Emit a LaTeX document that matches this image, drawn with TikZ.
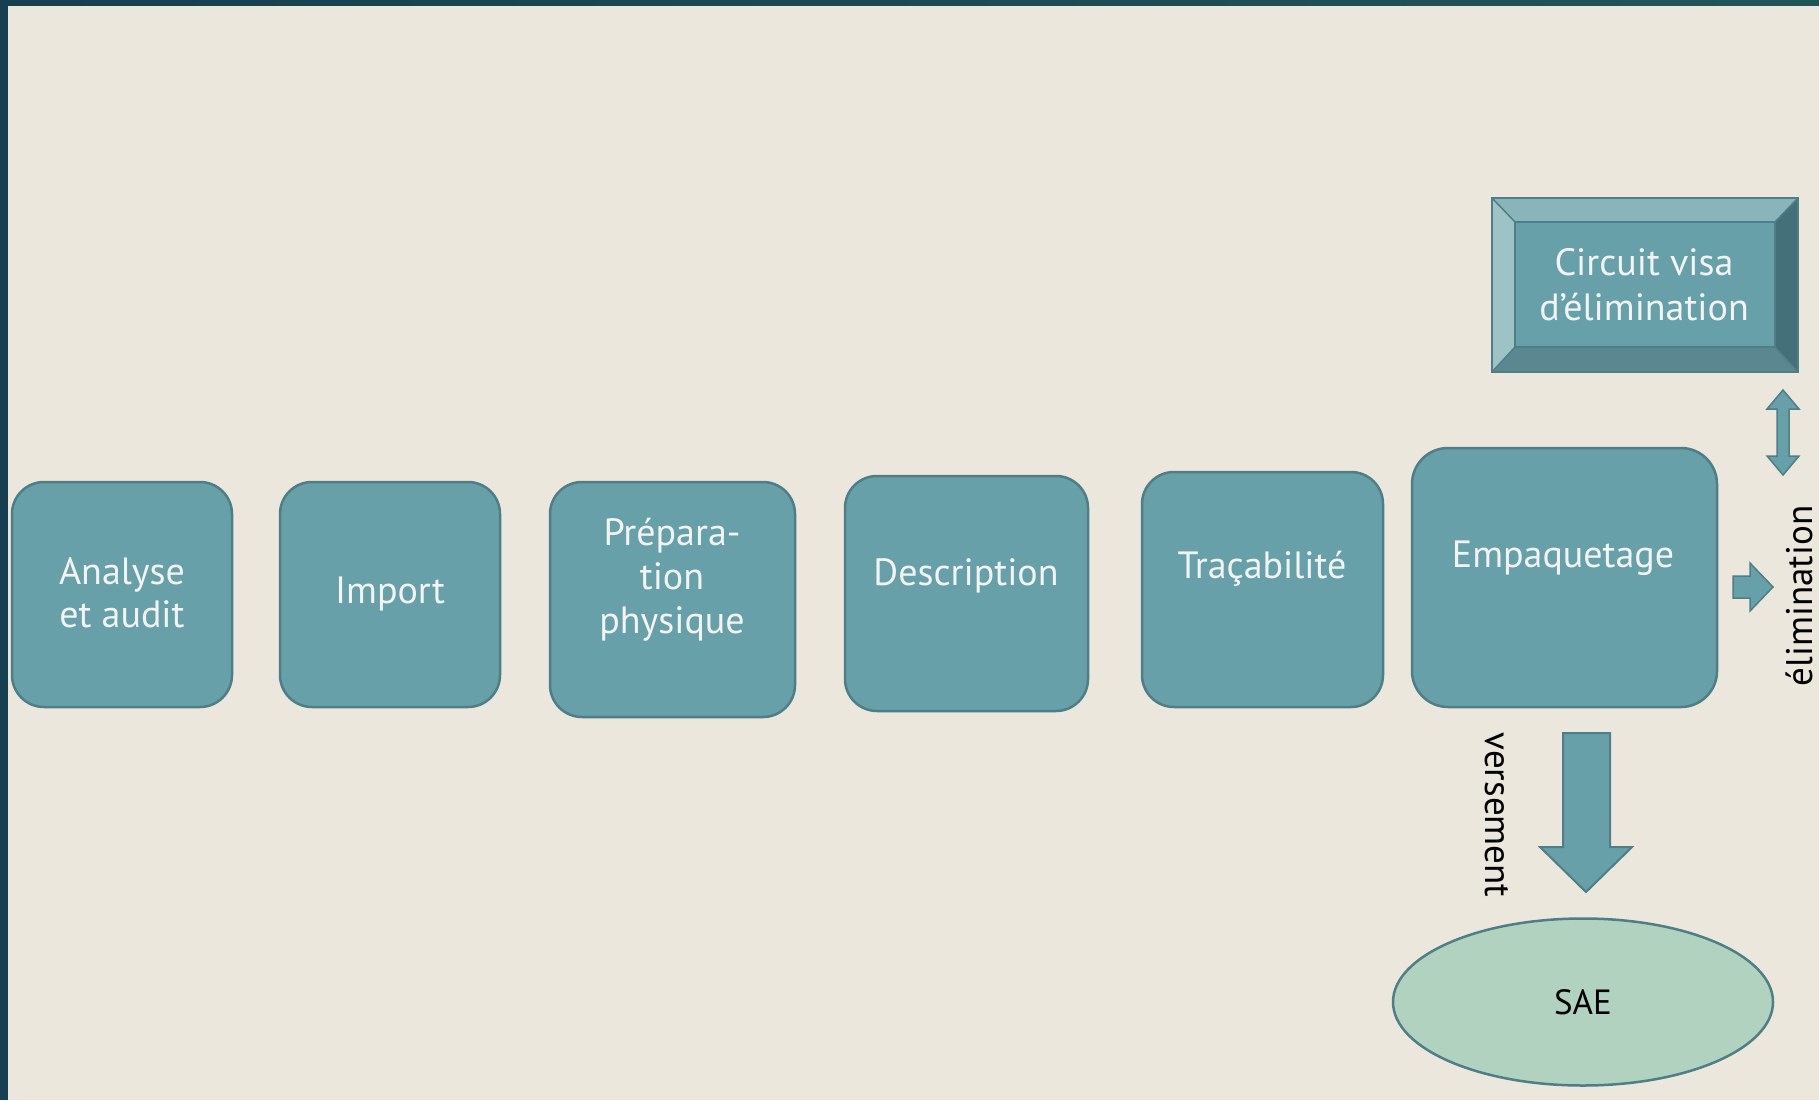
\documentclass[tikz,border=0pt]{standalone}
\usepackage{fontspec}
\setmainfont{PT Sans}
\usetikzlibrary{shapes.geometric}
\definecolor{paper}{HTML}{EBE7DD}
\definecolor{frameL}{HTML}{163F50}
\definecolor{frameR}{HTML}{215659}
\definecolor{boxfill}{HTML}{68A0A9}
\definecolor{boxline}{HTML}{4F7E87}
\definecolor{boxtext}{HTML}{F2F4F4}
\definecolor{bevtop}{HTML}{88B4BA}
\definecolor{bevleft}{HTML}{9DC3C7}
\definecolor{bevright}{HTML}{44707A}
\definecolor{bevbot}{HTML}{5A8790}
\definecolor{saefill}{HTML}{B1D2BE}
\tikzset{
  stepbox/.style={draw=boxline, line width=2.5pt, fill=boxfill, rounded corners=32pt,
    inner sep=0pt},
  steplabel/.style={text=boxtext, align=center, inner sep=0pt,
    font=\fontsize{38}{44}\selectfont},
  sidelabel/.style={text=black, inner sep=0pt, font=\fontsize{37}{40}\selectfont},
  blockarrow/.style={fill=boxfill, draw=boxline, line width=2pt, line join=miter},
}
\begin{document}
\begin{tikzpicture}[x=1pt,y=-1pt]
% page, background and frame bars
\useasboundingbox (0,0) rectangle (1819,1100);
\fill[paper] (0,0) rectangle (1819,1100);
\shade[left color=frameL, right color=frameR] (0,0) rectangle (1819,5);
\fill[frameL] (0,0) rectangle (8,1100);

% process steps
\node[stepbox, minimum width=220pt, minimum height=225pt] (analyse) at (122,594.5) {};
\node[steplabel, font=\fontsize{38}{43}\selectfont] (analyseT) at (122,593) {Analyse\\et audit};
\node[stepbox, minimum width=220pt, minimum height=225pt] (import) at (390,594.5) {};
\node[steplabel] (importT) at (390,594) {Import};
\node[stepbox, minimum width=245pt, minimum height=235pt] (prep) at (672.5,599.5) {};
\node[steplabel] (prepT) at (672,580) {Prépara-\\tion\\physique};
\node[stepbox, minimum width=243pt, minimum height=235pt] (descr) at (966.5,593.5) {};
\node[steplabel, anchor=base] (descrT) at (966,585) {Description};
\node[stepbox, minimum width=241pt, minimum height=235pt] (trace) at (1262.5,589.5) {};
\node[steplabel, anchor=base] (traceT) at (1262,578) {Traçabilité};
\node[stepbox, minimum width=305pt, minimum height=259pt, rounded corners=36pt] (empaq) at (1564.5,577.5) {};
\node[steplabel, anchor=base] (empaqT) at (1563,567) {Empaquetage};

% bevelled button: circuit visa
\coordinate (cvO1) at (1492,198);
\coordinate (cvO2) at (1798,372);
\coordinate (cvI1) at (1515,222);
\coordinate (cvI2) at (1775,347);
\fill[bevtop]   (cvO1) -- (cvO2 |- cvO1) -- (cvI2 |- cvI1) -- (cvI1) -- cycle;
\fill[bevleft]  (cvO1) -- (cvI1) -- (cvI1 |- cvI2) -- (cvO1 |- cvO2) -- cycle;
\fill[bevright] (cvO2 |- cvO1) -- (cvO2) -- (cvI2) -- (cvI2 |- cvI1) -- cycle;
\fill[bevbot]   (cvO1 |- cvO2) -- (cvI1 |- cvI2) -- (cvI2) -- (cvO2) -- cycle;
\draw[boxline, line width=1.5pt] (cvO1) -- (cvI1) (cvO2 |- cvO1) -- (cvI2 |- cvI1)
  (cvO1 |- cvO2) -- (cvI1 |- cvI2) (cvO2) -- (cvI2);
\node[draw=boxline, line width=2pt, fill=boxfill, minimum width=260pt, minimum height=125pt,
  inner sep=0pt] (circuit) at (1645,284.5) {};
\draw[boxline, line width=2.5pt] (cvO1) rectangle (cvO2);
\node[steplabel, font=\fontsize{38}{45}\selectfont] (circuitT) at (1644,285) {Circuit visa\\d’élimination};

% double arrow between packaging and the approval circuit
\coordinate (dT) at (1783,390);
\coordinate (dB) at (1783,475);
\draw[blockarrow, line width=1.5pt] (dT) -- ++(16,19) -- ++(-10,0) -- ++(0,47) -- ++(10,0)
  -- (dB) -- ++(-16,-19) -- ++(10,0) -- ++(0,-47) -- ++(-10,0) -- cycle;

% arrow to disposal
\coordinate (eT) at (1773,587);
\draw[blockarrow, line width=1.5pt] (eT) -- ++(-23,24) -- ++(0,-13) -- ++(-17,0) -- ++(0,-22)
  -- ++(17,0) -- ++(0,-13) -- cycle;
\node[sidelabel, rotate=90] (elim) at (1799,596) {élimination};

% arrow to the archive system
\coordinate (vT) at (1586,892);
\draw[blockarrow] (vT) -- ++(46,-45) -- ++(-22,0) -- ++(0,-114) -- ++(-47,0) -- ++(0,114)
  -- ++(-23,0) -- cycle;
\node[sidelabel, rotate=-90] (vers) at (1497,815) {versement};

\node[ellipse, draw=boxline, line width=2.5pt, fill=saefill, minimum width=380pt,
  minimum height=167pt, inner sep=0pt] (sae) at (1583,1002) {};
\node[text=black, inner sep=0pt, font=\fontsize{35}{38}\selectfont] (saeT) at (1583,1002) {SAE};
\end{tikzpicture}
\end{document}
